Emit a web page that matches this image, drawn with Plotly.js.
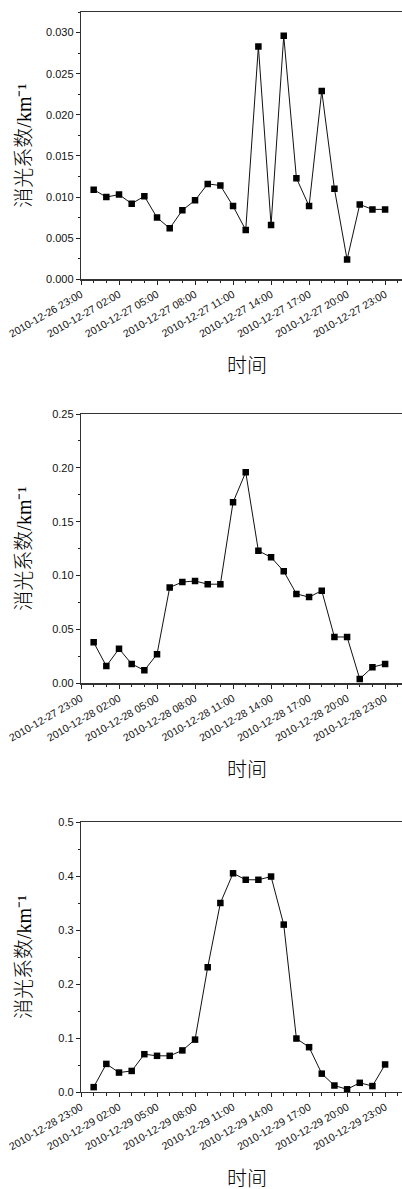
<!DOCTYPE html>
<html>
<head>
<meta charset="utf-8">
<script src="https://cdn.plot.ly/plotly-3.0.1.min.js"></script>
<style>html,body{margin:0;padding:0;background:#fff}#chart{width:402px;height:1189px}</style>
</head>
<body>
<div id="chart"></div>
<script>
// ---- data ----
const hourLabels = ['00:00','01:00','02:00','03:00','04:00','05:00','06:00','07:00','08:00','09:00','10:00','11:00',
                    '12:00','13:00','14:00','15:00','16:00','17:00','18:00','19:00','20:00','21:00','22:00','23:00'];
const days = ['2010-12-27', '2010-12-28', '2010-12-29'];
const ext1 = [0.0109,0.0100,0.0103,0.0092,0.0101,0.0075,0.0062,0.0084,0.0096,0.0116,0.0114,0.0089,
              0.0060,0.0283,0.0066,0.0296,0.0123,0.0089,0.0229,0.0110,0.0024,0.0091,0.0085,0.0085];
const ext2 = [0.038,0.016,0.032,0.018,0.012,0.027,0.089,0.094,0.095,0.092,0.092,0.168,
              0.196,0.123,0.117,0.104,0.083,0.080,0.086,0.043,0.043,0.004,0.015,0.018];
const ext3 = [0.009,0.052,0.036,0.039,0.070,0.067,0.067,0.077,0.097,0.231,0.350,0.405,
              0.393,0.393,0.399,0.310,0.099,0.083,0.034,0.012,0.005,0.017,0.011,0.051];
const xRanges = [['2010-12-26 23:00','2010-12-28 00:20'],
                 ['2010-12-27 23:00','2010-12-29 00:20'],
                 ['2010-12-28 23:00','2010-12-30 00:20']];
const yRanges = [[0, 0.0325],[0, 0.25],[0, 0.5]];
const yDticks = [0.005, 0.05, 0.1];
const yMinorDticks = [0.0025, 0.025, 0.05];
const yFormats = ['.3f', '.2f', '.1f'];
const yTitle = '消光系数/km⁻¹';
const xTitle = '时间';

// ---- layout ----
const W = 402, H = 1189;
const mL = 81, mR = 0, mT = 12, mB = 97;
const plotH = H - mT - mB;
// pixel top/bottom of each panel
const panelPx = [[12, 279.3],[414, 683.3],[822, 1092]];
const domains = panelPx.map(([t,b]) => [(H - mB - b)/plotH, (H - mB - t)/plotH]);

const tickFont = {family: 'Liberation Sans, Arial, sans-serif', size: 10.5, color: '#111'};
const titleFamily = 'Liberation Serif, Times New Roman, Noto Sans CJK SC, serif';

const data = [ext1, ext2, ext3].map((vals, i) => ({
  type: 'scatter', mode: 'lines+markers',
  x: hourLabels.map(h => days[i] + ' ' + h),
  y: vals,
  xaxis: i === 0 ? 'x' : 'x' + (i+1),
  yaxis: i === 0 ? 'y' : 'y' + (i+1),
  line: {color: '#111', width: 1},
  marker: {symbol: 'square', size: 6.5, color: '#000'},
  showlegend: false
}));

const layout = {
  width: W, height: H,
  margin: {l: mL, r: mR, t: mT, b: mB, pad: 0},
  paper_bgcolor: '#fff', plot_bgcolor: '#fff',
  showlegend: false,
  annotations: []
};

for (let i = 0; i < 3; i++) {
  const sx = i === 0 ? '' : String(i+1);
  layout['xaxis' + sx] = {
    type: 'date',
    anchor: 'y' + sx,
    domain: [0, 1],
    range: xRanges[i],
    tick0: xRanges[i][0],
    dtick: 3 * 3600000,
    tickformat: '%Y-%m-%d %H:%M',
    tickangle: -30,
    ticks: 'outside', ticklen: 4, tickwidth: 1, tickcolor: '#222',
    minor: {dtick: 3600000, ticks: 'outside', ticklen: 2.5, tickwidth: 1, tickcolor: '#222', showgrid: false},
    showline: true, linecolor: '#333', linewidth: 1.2, mirror: true,
    showgrid: false, zeroline: false,
    tickfont: tickFont,
    fixedrange: true
  };
  layout['yaxis' + sx] = {
    anchor: 'x' + sx,
    domain: domains[i],
    range: yRanges[i],
    dtick: yDticks[i], tick0: 0,
    tickformat: yFormats[i],
    ticks: 'outside', ticklen: 4, tickwidth: 1, tickcolor: '#222',
    minor: {dtick: yMinorDticks[i], ticks: 'outside', ticklen: 2, tickwidth: 1, tickcolor: '#222', showgrid: false},
    showline: true, linecolor: '#333', linewidth: 1.2,
    showgrid: false, zeroline: false,
    tickfont: {family: 'Liberation Sans, Arial, sans-serif', size: 11, color: '#111'},
    fixedrange: true
  };
  const [tp, bp] = panelPx[i];
  // y-axis title
  layout.annotations.push({
    text: yTitle, textangle: -90,
    xref: 'paper', yref: 'paper',
    x: (24 - mL) / (W - mL - mR), y: (H - mB - (tp + bp) / 2) / plotH,
    xanchor: 'center', yanchor: 'middle', showarrow: false,
    font: {family: titleFamily, size: 20, color: '#000', weight: 300}
  });
  // x-axis title
  layout.annotations.push({
    text: xTitle,
    xref: 'paper', yref: 'paper',
    x: (247 - mL) / (W - mL - mR), y: (H - mB - (bp + 87)) / plotH,
    xanchor: 'center', yanchor: 'middle', showarrow: false,
    font: {family: titleFamily, size: 20, color: '#000', weight: 300}
  });
}

Plotly.newPlot('chart', data, layout, {displayModeBar: false, staticPlot: true});
</script>
</body>
</html>
